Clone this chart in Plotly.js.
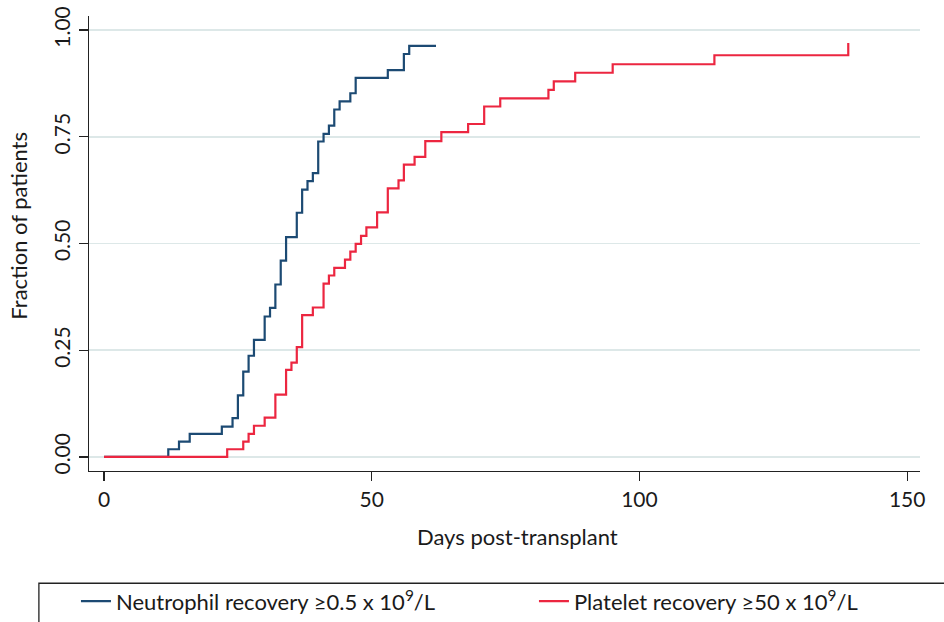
<!DOCTYPE html>
<html>
<head>
<meta charset="utf-8">
<script src="https://cdn.plot.ly/plotly-3.0.1.min.js"></script>
<style>html,body{margin:0;padding:0;background:#fff;}#chart{width:944px;height:622px;}</style>
</head>
<body>
<div id="chart"></div>
<script>
// Neutrophil recovery (Kaplan-Meier style step curve)
const neutroDays = [0, 12, 14, 16, 22, 24, 25, 26, 27, 28, 30, 31, 32, 33, 34, 36, 37, 38, 39, 40, 41, 42, 43, 44, 46, 47, 53, 56, 57, 62];
const neutroFrac = [0, 0.018, 0.036, 0.054, 0.071, 0.091, 0.144, 0.200, 0.237, 0.274, 0.329, 0.349, 0.404, 0.460, 0.515, 0.572, 0.626, 0.646, 0.665, 0.739, 0.757, 0.776, 0.814, 0.833, 0.852, 0.888, 0.906, 0.944, 0.963, 0.963];

// Platelet recovery
const plateletDays = [0, 23, 26, 27, 28, 30, 32, 34, 35, 36, 37, 39, 41, 42, 43, 45, 46, 47, 48, 49, 51, 53, 55, 56, 58, 60, 63, 68, 71, 74, 83, 84, 88, 95, 114, 139];
const plateletFrac = [0, 0.018, 0.036, 0.054, 0.073, 0.092, 0.146, 0.204, 0.221, 0.257, 0.332, 0.350, 0.406, 0.425, 0.443, 0.462, 0.481, 0.499, 0.518, 0.538, 0.573, 0.629, 0.648, 0.685, 0.703, 0.740, 0.761, 0.780, 0.821, 0.840, 0.860, 0.880, 0.900, 0.920, 0.941, 0.970];

const seriesNames = ['Neutrophil recovery ≥0.5 x 10<sup>9</sup>/L', 'Platelet recovery ≥50 x 10<sup>9</sup>/L'];
const xTicks = [0, 50, 100, 150];
const yTicks = [0, 0.25, 0.5, 0.75, 1];
const yTickLabels = ['0.00', '0.25', '0.50', '0.75', '1.00'];
const xTitle = 'Days post-transplant';
const yTitle = 'Fraction of patients';

const FONT = 'Lato, "Noto Sans", sans-serif';
const TXT = '#1a1a1a';

const traces = [
  {x: neutroDays, y: neutroFrac, type: 'scatter', mode: 'lines', line: {shape: 'hv', color: '#1c4a73', width: 2.2}, name: seriesNames[0]},
  {x: plateletDays, y: plateletFrac, type: 'scatter', mode: 'lines', line: {shape: 'hv', color: '#ec2640', width: 2.2}, name: seriesNames[1]}
];

const layout = {
  width: 944, height: 622,
  paper_bgcolor: '#fff', plot_bgcolor: '#fff',
  margin: {l: 89, r: 24, t: 16, b: 151, autoexpand: false},
  font: {family: FONT, size: 22, color: TXT},
  showlegend: true,
  xaxis: {
    range: [-2.81, 152.4], tickvals: xTicks, ticks: 'outside', ticklen: 9, tickwidth: 1.3, tickcolor: '#222',
    showline: true, linecolor: '#222', linewidth: 1.3, showgrid: false, zeroline: false,
    tickfont: {family: FONT, size: 21, color: TXT}
  },
  yaxis: {
    range: [-0.033, 1.033], tickvals: yTicks, ticktext: yTickLabels, tickangle: -90,
    ticks: 'outside', ticklen: 9, tickwidth: 1.3, tickcolor: '#222',
    showline: true, linecolor: '#222', linewidth: 1.3, showgrid: true, gridcolor: '#dde8e8', gridwidth: 1.6, zeroline: false,
    tickfont: {family: FONT, size: 21, color: TXT}
  },
  legend: {
    orientation: 'h', x: -0.0157, xanchor: 'left', y: -0.2404, yanchor: 'top',
    bgcolor: 'rgba(0,0,0,0)', borderwidth: 0, entrywidth: 413, entrywidthmode: 'pixels',
    font: {family: FONT, size: 22, color: TXT}
  },
  shapes: [
    {type: 'rect', xref: 'paper', yref: 'paper', x0: -0.0603, x1: 1.0302, y0: -0.2467, y1: -0.40,
     line: {color: '#222', width: 1.3}, fillcolor: 'rgba(0,0,0,0)', layer: 'below'}
  ],
  annotations: [
    {text: xTitle, xref: 'paper', yref: 'paper', x: 0.516, y: -0.145, xanchor: 'center', yanchor: 'middle', showarrow: false, font: {family: FONT, size: 22, color: TXT}},
    {text: yTitle, xref: 'paper', yref: 'paper', x: -0.085, y: 0.54, xanchor: 'center', yanchor: 'middle', textangle: -90, showarrow: false, font: {family: FONT, size: 22, color: TXT}}
  ]
};

Plotly.newPlot('chart', traces, layout, {displayModeBar: false, staticPlot: true});
</script>
</body>
</html>
